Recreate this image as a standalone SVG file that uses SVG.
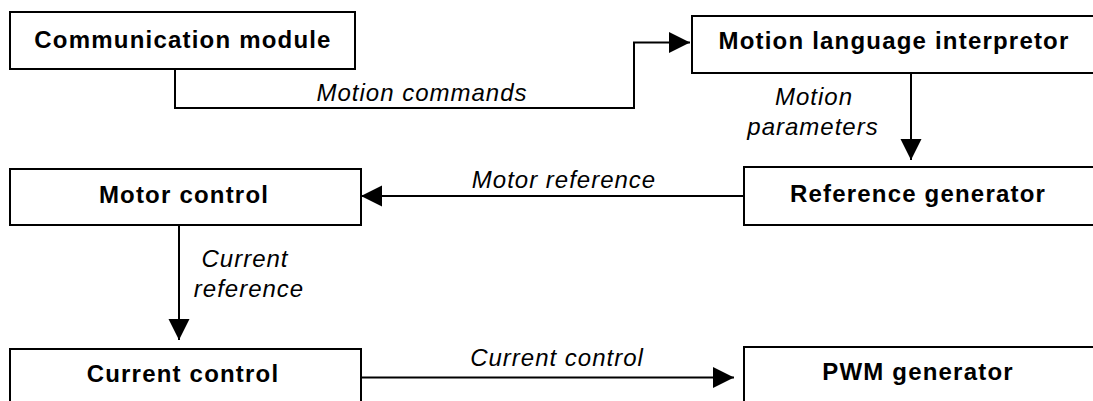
<svg xmlns="http://www.w3.org/2000/svg" width="1093" height="401" viewBox="0 0 1093 401">
  <style>
    .box { fill: #ffffff; stroke: #000000; stroke-width: 2; }
    .lbl { font-family: "Liberation Sans", Arial, sans-serif; font-size: 24px; font-weight: bold; letter-spacing: 1.2px; text-anchor: middle; fill: #000000; }
    .edge { font-family: "Liberation Sans", Arial, sans-serif; font-size: 24px; font-style: italic; letter-spacing: 1px; text-anchor: middle; fill: #000000; }
    .conn { fill: none; stroke: #000000; stroke-width: 2; }
  </style>
  <defs>
    <marker id="arrow" markerUnits="userSpaceOnUse" markerWidth="22" markerHeight="22" refX="21" refY="10.5" orient="auto">
      <path d="M0,0 L21,10.5 L0,21 Z" fill="#000000"/>
    </marker>
  </defs>
  <rect width="1093" height="401" fill="#ffffff"/>

  <g id="connectors">
    <polyline class="conn" points="175,69 175,108 634,108 634,42.5 690,42.5" marker-end="url(#arrow)"/>
    <line class="conn" x1="911" y1="73" x2="911" y2="160" marker-end="url(#arrow)"/>
    <line class="conn" x1="744" y1="196" x2="361" y2="196" marker-end="url(#arrow)"/>
    <line class="conn" x1="179" y1="225" x2="179" y2="340" marker-end="url(#arrow)"/>
    <line class="conn" x1="361" y1="377.5" x2="734" y2="377.5" marker-end="url(#arrow)"/>
    <text class="edge" x="422" y="101">Motion commands</text>
    <text class="edge" x="814" y="105">Motion</text>
    <text class="edge" x="813" y="135">parameters</text>
    <text class="edge" x="564" y="188">Motor reference</text>
    <text class="edge" x="245" y="267">Current</text>
    <text class="edge" x="249" y="297">reference</text>
    <text class="edge" x="557" y="366">Current control</text>
  </g>

  <g id="communication-module">
    <rect class="box" x="10" y="12" width="345" height="57"/>
    <text class="lbl" x="183" y="48">Communication module</text>
  </g>
  <g id="motion-language-interpretor">
    <rect class="box" x="692" y="16" width="420" height="57"/>
    <text class="lbl" x="894" y="49">Motion language interpretor</text>
  </g>
  <g id="reference-generator">
    <rect class="box" x="744" y="167" width="370" height="58"/>
    <text class="lbl" x="918" y="202">Reference generator</text>
  </g>
  <g id="motor-control">
    <rect class="box" x="10" y="169" width="351" height="56"/>
    <text class="lbl" x="184" y="203">Motor control</text>
  </g>
  <g id="current-control">
    <rect class="box" x="10" y="349" width="351" height="60"/>
    <text class="lbl" x="183" y="382">Current control</text>
  </g>
  <g id="pwm-generator">
    <rect class="box" x="744" y="347" width="370" height="60"/>
    <text class="lbl" x="918" y="380">PWM generator</text>
  </g>
</svg>
